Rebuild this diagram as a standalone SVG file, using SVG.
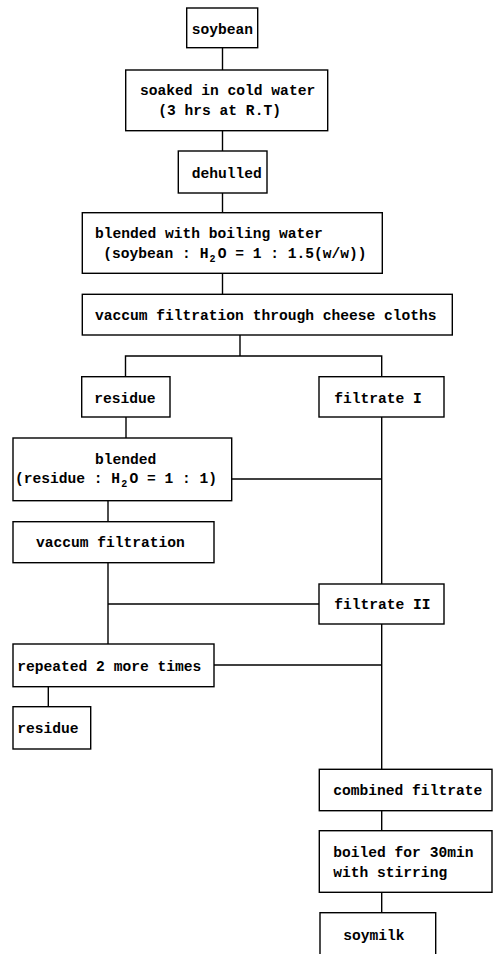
<svg xmlns="http://www.w3.org/2000/svg" width="493" height="954" viewBox="0 0 493 954">
<style>
rect{fill:#fff;stroke:#000;stroke-width:1.4}
line,path{stroke:#000;stroke-width:1.4;fill:none}
text{font-family:"Liberation Mono","DejaVu Sans Mono",monospace;font-weight:bold;font-size:14.6px;fill:#000}
.sub{font-size:10px}
</style>
<rect x="0" y="0" width="493" height="954" style="stroke:none"/>
<g id="connectors">
<line x1="222.5" y1="47.7" x2="222.5" y2="70"/>
<line x1="222.5" y1="130.7" x2="222.5" y2="151"/>
<line x1="222.5" y1="193" x2="222.5" y2="212.7"/>
<line x1="222.5" y1="273.3" x2="222.5" y2="294.3"/>
<line x1="240" y1="335" x2="240" y2="356"/>
<path d="M125.5 376.7V356H381.7V376.7"/>
<line x1="126" y1="417" x2="126" y2="438"/>
<path d="M231.7 479H381.7"/>
<line x1="381.7" y1="417" x2="381.7" y2="584"/>
<line x1="108" y1="500.7" x2="108" y2="521.7"/>
<line x1="108" y1="562.7" x2="108" y2="644"/>
<line x1="108" y1="604" x2="319" y2="604"/>
<line x1="214" y1="665" x2="381.7" y2="665"/>
<line x1="381.7" y1="624" x2="381.7" y2="769.3"/>
<line x1="48.3" y1="686.7" x2="48.3" y2="706.7"/>
<line x1="381.7" y1="810.7" x2="381.7" y2="830.7"/>
<line x1="381.7" y1="892.3" x2="381.7" y2="912.7"/>
</g>
<g id="soybean"><rect x="186.7" y="8" width="71" height="39.7"/><text x="191.7" y="33.5">soybean</text></g>
<g id="soaked"><rect x="125.7" y="70" width="202" height="60.7"/><text x="140" y="95">soaked in cold water</text><text x="158.3" y="115">(3 hrs at R.T)</text></g>
<g id="dehulled"><rect x="178.3" y="151" width="88.7" height="42"/><text x="191.7" y="177.5">dehulled</text></g>
<g id="blended1"><rect x="82.3" y="212.7" width="300" height="60.6"/><text x="95" y="237.5">blended with boiling water</text><text x="103.3" y="258">(soybean : H</text><text x="209.5" y="261.5" class="sub">2</text><text x="217.7" y="258">O = 1 : 1.5(w/w))</text></g>
<g id="vaccum1"><rect x="82.3" y="294.3" width="370" height="40.7"/><text x="95" y="320">vaccum filtration through cheese cloths</text></g>
<g id="residue1"><rect x="81.7" y="376.7" width="88.3" height="40.3"/><text x="94.3" y="403.3">residue</text></g>
<g id="filtrate1"><rect x="319" y="376.7" width="125" height="40.3"/><text x="334.3" y="403.3">filtrate I</text></g>
<g id="blended2"><rect x="13" y="438" width="218.7" height="62.7"/><text x="95" y="464.3">blended</text><text x="15" y="483.3">(residue : H</text><text x="121.2" y="486.8" class="sub">2</text><text x="129.4" y="483.3">O = 1 : 1)</text></g>
<g id="vaccum2"><rect x="13" y="521.7" width="201" height="41"/><text x="36" y="547.3">vaccum filtration</text></g>
<g id="filtrate2"><rect x="319" y="584" width="125" height="40"/><text x="334.3" y="608.7">filtrate II</text></g>
<g id="repeated"><rect x="13" y="644" width="201" height="42.7"/><text x="17.3" y="671">repeated 2 more times</text></g>
<g id="residue2"><rect x="13" y="706.7" width="77.7" height="42.3"/><text x="17.3" y="733.3">residue</text></g>
<g id="combined"><rect x="319.3" y="769.3" width="172.7" height="41.4"/><text x="333.3" y="795">combined filtrate</text></g>
<g id="boiled"><rect x="319.3" y="830.7" width="172.7" height="61.6"/><text x="333.3" y="857.3">boiled for 30min</text><text x="333.3" y="877.3">with stirring</text></g>
<g id="soymilk"><rect x="320" y="912.7" width="115.7" height="45"/><text x="343.3" y="940">soymilk</text></g>
</svg>
